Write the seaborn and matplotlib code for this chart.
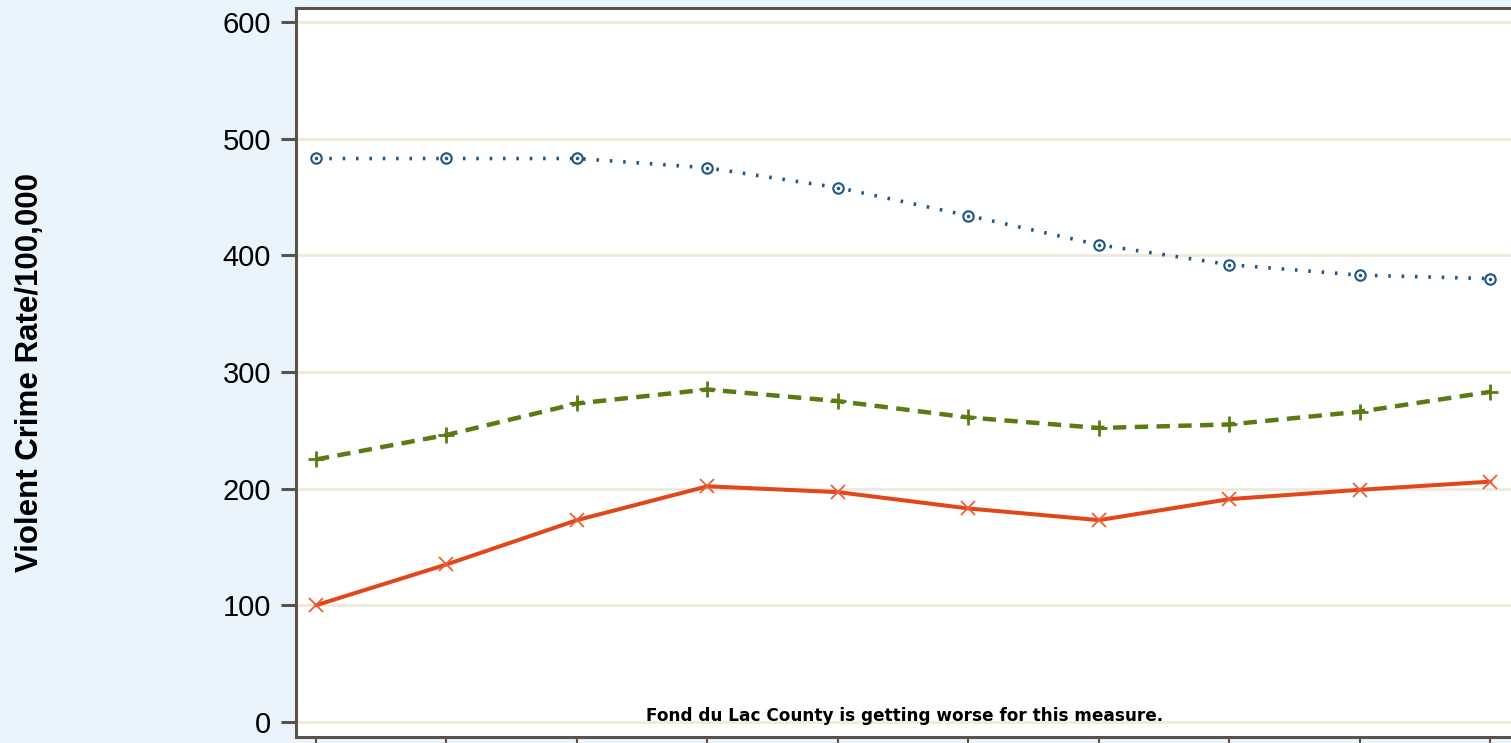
import pandas as pd
import seaborn as sns
import matplotlib.pyplot as plt


# Data
years = [2006, 2007, 2008, 2009, 2010, 2011, 2012, 2013, 2014, 2015]
us_rate = [483, 483, 483, 475, 458, 434, 409, 392, 383, 380]
wi_rate = [225, 246, 273, 285, 275, 261, 252, 255, 266, 283]
county_rate = [100, 135, 173, 202, 197, 183, 173, 191, 199, 206]
note = 'Fond du Lac County is getting worse for this measure.'

sns.set_theme(style='white')
plt.rcParams['font.family'] = ['Liberation Sans', 'DejaVu Sans']
plt.rcParams['text.color'] = 'black'
plt.rcParams['ytick.labelcolor'] = 'black'

fig = plt.figure(figsize=(15.11, 7.43), dpi=100, facecolor='#eaf4fc')
ax = fig.add_axes([296 / 1511, 6 / 743, 1222 / 1511, 729 / 743])
ax.set_facecolor('white')

pos = list(range(len(years)))
df = pd.DataFrame({'pos': pos, 'us': us_rate, 'wi': wi_rate, 'county': county_rate})

# grid lines first
for v in range(0, 601, 100):
    ax.axhline(v, color='#ecead9', lw=2, zorder=0)

blue, green, red = '#1d5584', '#5a7a14', '#e0471b'
sns.lineplot(x='pos', y='us', data=df, ax=ax, color=blue, lw=2.6,
             linestyle=(0, (0.7, 3.0)), marker='o', markersize=7.5,
             markerfacecolor='white', markeredgecolor=blue, markeredgewidth=1.5)
ax.plot(pos, us_rate, linestyle='none', marker='.', markersize=3, color=blue)
sns.lineplot(x='pos', y='wi', data=df, ax=ax, color=green, lw=3.2,
             linestyle=(0, (3.0, 1.9)), marker='+', markersize=11,
             markeredgecolor=green, markeredgewidth=2)
sns.lineplot(x='pos', y='county', data=df, ax=ax, color=red, lw=2.9,
             marker='x', markersize=10, markeredgecolor='#e8603a', markeredgewidth=1.3)

ax.set_xlim(-0.153, -0.153 + 1222 / 130.5)
ax.set_ylim(-12.9, 612)
ax.set_yticks(range(0, 601, 100))
ax.set_xticks(pos)
ax.set_xticklabels([''] * len(pos))
ax.tick_params(axis='y', direction='out', length=11, width=2.2, color='#5a5448',
               labelsize=21, labelcolor='black', pad=7, left=True)
ax.tick_params(axis='x', direction='out', length=6, width=1.5, color='#5a5448', bottom=True)

for side in ['left', 'bottom', 'top']:
    ax.spines[side].set_color('#5a5448')
    ax.spines[side].set_linewidth(2.2)
ax.spines['right'].set_visible(False)

ax.set_xlabel('')
ax.set_ylabel('')
fig.text(0.020, (743 - 372) / 743, 'Violent Crime Rate/100,000', rotation=90,
         ha='center', va='center', fontsize=22.5, fontweight='bold', color='black')

ax.text((905 - 296) / 1222, (737 - 716) / 729, note, transform=ax.transAxes,
        ha='center', va='center', fontsize=12.2, fontweight='bold',
        family=['DejaVu Sans'], color='black')

fig.savefig('out.png', dpi=100, facecolor=fig.get_facecolor())
plt.close()
